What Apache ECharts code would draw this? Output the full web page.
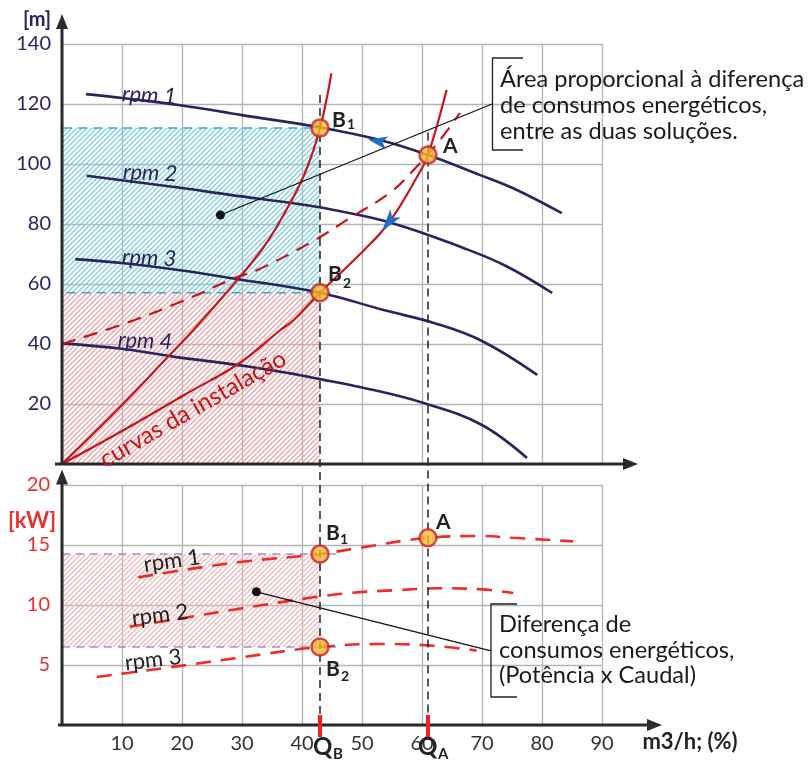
<!DOCTYPE html>
<html><head><meta charset="utf-8">
<script src="https://cdn.jsdelivr.net/npm/echarts@6/dist/echarts.min.js"></script>
<style>html,body{margin:0;padding:0;background:#fff}#c{width:810px;height:762px}</style>
</head><body><div id="c"></div>
<script>
// ---------- data ----------
const xTicks = [10,20,30,40,50,60,70,80,90];
const headTicks = [20,40,60,80,100,120,140];
const powerTicks = [5,10,15,20];

// pump head curves [flow, head m]
const rpm1Head = [[4,123.3],[10,122],[20,119.5],[30,116.3],[43,112.2],[53,108],[61,103],[69.7,96.3],[75.2,91.9],[83.3,83.6]];
const rpm2Head = [[4.1,96.1],[20,92],[28,89.7],[39.7,86.6],[44.7,84.9],[55.2,80.2],[66.9,72],[74,66],[81.7,57]];
const rpm3Head = [[2.2,68.3],[10,67],[20,64.5],[28,62],[43,57.1],[53.6,51.3],[62,47],[70,41],[79.2,29.7]];
const rpm4Head = [[0,40.2],[10,38.4],[18.5,35.8],[30,32.8],[38,30.2],[43,28.3],[50,25.5],[60,20.5],[70,13],[77.5,2]];
// system curves
const systemB1 = [[0,0],[10,19.7],[17.7,35.8],[21.9,44.7],[28,58.5],[33.5,72],[37.2,84],[40.5,97],[43,112],[44.9,130.2]];
const systemA = [[0,0],[10,11],[20.8,23.5],[29.5,33.5],[36.3,44.5],[38.6,48],[43,57.1],[50.2,71],[54.5,80.5],[59.4,96.5],[61,103],[64.1,124.7]];
const systemStatic = [[0,40],[10,46.5],[19.7,54],[29.2,62.3],[32.4,64.5],[41.6,74],[48,82],[54.7,90.5],[58.6,98],[63,108],[66.3,117]];
// power curves [flow, kW]
const rpm1Power = [[12.7,12.3],[20,12.9],[30,13.6],[43,14.25],[50,14.8],[61,15.6],[69.7,15.75],[75,15.6],[85.2,15.3]];
const rpm2Power = [[11.3,8.2],[20,8.9],[28.5,9.6],[40,10.5],[48,11],[56.3,11.25],[63,11.4],[70,11.3],[75.2,11.0]];
const rpm3Power = [[5.8,4],[20.8,5],[30,5.65],[43,6.5],[53.5,6.75],[62,6.6],[69.1,6.2]];
// operating points
const pointNames = ['B1','A','B2'];
const headPoints = [[43,112],[61,103],[43,57.1]];
const powerPoints = [[43,14.25],[61,15.6],[43,6.5]];
const qB = 43, qA = 61;
const headB1 = 112, headB2 = 57.1, powerB1 = 14.25, powerB2 = 6.5;
// annotation anchors (data coords)
const headLeader = [[26.4,83],[71.67,120]];
const powerLeader = [[32.4,11.1],[71.5,6.17]];
// flow direction arrows: [tip, tail]
const flowArrowRpm1 = [[51,108.2],[54.2,107]];
const flowArrowSystem = [[53.3,77.6],[55.6,83.6]];

// ---------- style ----------
const NAVY='#28245e', RED='#c4161c', PRED='#ef2b2b', DARK='#222';
const FONT='Lato, "Open Sans", sans-serif';

function hatch(color){
  const s=5, c=document.createElement('canvas'); c.width=s; c.height=s;
  const g=c.getContext('2d'); g.strokeStyle=color; g.lineWidth=1.4;
  g.beginPath();
  g.moveTo(0,s); g.lineTo(s,0);
  g.moveTo(-1,1); g.lineTo(1,-1);
  g.moveTo(s-1,s+1); g.lineTo(s+1,s-1);
  g.stroke();
  return {image:c, repeat:'repeat'};
}

function curve(data, grid, color, width, type, z){
  return {type:'line', xAxisIndex:grid, yAxisIndex:grid, data, symbol:'none', showSymbol:false,
    smooth:0.4, silent:true, z:z||3,
    lineStyle:{color, width, type:type||'solid', cap:'butt'}};
}

const chart = echarts.init(document.getElementById('c'), null, {renderer:'canvas'});

const splitLine = {show:true, lineStyle:{color:'#b4b4b4', width:1.3}};
const option = {
  animation:false,
  backgroundColor:'#fff',
  grid:[{left:62, top:44, width:540, height:420},{left:62, top:485, width:540, height:240}],
  xAxis:[
    {gridIndex:0, type:'value', min:0, max:90, interval:10, axisLine:{show:false}, axisTick:{show:false}, axisLabel:{show:false}, splitLine},
    {gridIndex:1, type:'value', min:0, max:90, interval:10, axisLine:{show:false}, axisTick:{show:false},
      axisLabel:{show:true, margin:9, color:'#333', fontFamily:FONT, fontSize:20, hideOverlap:false,
        formatter:v=>xTicks.includes(v)?String(v):''}, splitLine}
  ],
  yAxis:[
    {gridIndex:0, type:'value', min:0, max:140, interval:20, axisLine:{show:false}, axisTick:{show:false},
      axisLabel:{margin:11, color:NAVY, fontFamily:FONT, fontSize:20, formatter:v=>headTicks.includes(v)?String(v):''}, splitLine},
    {gridIndex:1, type:'value', min:0, max:20, interval:5, axisLine:{show:false}, axisTick:{show:false},
      axisLabel:{margin:12, color:'#e8302c', fontFamily:FONT, fontSize:20, formatter:v=>powerTicks.includes(v)?String(v):''}, splitLine}
  ],
  series:[
    {type:'line', xAxisIndex:0, yAxisIndex:0, data:[[-2.3,headB1],[45.5,headB1]], clip:false, symbol:'none', silent:true, z:2,
      lineStyle:{color:'#3aa6dc', width:1.6, type:[9,6]},
      markArea:{silent:true, itemStyle:{color:hatch('#84cfdf')}, data:[[{coord:[0,headB2]},{coord:[qB,headB1]}]]}},
    {type:'line', xAxisIndex:0, yAxisIndex:0, data:[[-1.7,headB2],[46,headB2]], clip:false, symbol:'none', silent:true, z:2,
      lineStyle:{color:'#3aa6dc', width:1.6, type:[9,6]},
      markArea:{silent:true, itemStyle:{color:hatch('#e9a7a7')}, data:[[{coord:[0,0]},{coord:[qB,headB2]}]]}},
    {type:'line', xAxisIndex:1, yAxisIndex:1, data:[[0,powerB1],[46.3,powerB1]], clip:false, symbol:'none', silent:true, z:2,
      lineStyle:{color:'#7a5cc0', width:1.2, type:[8,6]},
      markArea:{silent:true, itemStyle:{color:hatch('#f0bcbc')}, data:[[{coord:[0,powerB2]},{coord:[qB,powerB1]}]]}},
    {type:'line', xAxisIndex:1, yAxisIndex:1, data:[[0,powerB2],[46.3,powerB2]], clip:false, symbol:'none', silent:true, z:2,
      lineStyle:{color:'#7a5cc0', width:1.2, type:[8,6]}},
    curve(rpm1Head,0,NAVY,2.6), curve(rpm2Head,0,NAVY,2.6), curve(rpm3Head,0,NAVY,2.6), curve(rpm4Head,0,NAVY,2.6),
    curve(systemB1,0,RED,2.2), curve(systemA,0,RED,2.2), curve(systemStatic,0,RED,2.2,[14,9]),
    curve(rpm1Power,1,PRED,2.6,[15,10]), curve(rpm2Power,1,PRED,2.6,[15,10]), curve(rpm3Power,1,PRED,2.6,[15,10]),
    {type:'line', xAxisIndex:0, yAxisIndex:0, silent:true, z:12, showSymbol:true,
      data:headLeader.map((p,i)=>({value:p, symbol:i===0?'circle':'none', symbolSize:9})),
      lineStyle:{color:'#111', width:1.3}, itemStyle:{color:'#111'}},
    {type:'line', xAxisIndex:1, yAxisIndex:1, silent:true, z:12, showSymbol:true,
      data:powerLeader.map((p,i)=>({value:p, symbol:i===0?'circle':'none', symbolSize:9})),
      lineStyle:{color:'#111', width:1.3}, itemStyle:{color:'#111'}},
    {type:'scatter', xAxisIndex:0, yAxisIndex:0, silent:true, z:20, data:headPoints, symbolSize:17,
      itemStyle:{color:'#fbb731', borderColor:'#c8202a', borderWidth:2.5}},
    {type:'scatter', xAxisIndex:1, yAxisIndex:1, silent:true, z:20, data:powerPoints, symbolSize:17,
      itemStyle:{color:'#fbb731', borderColor:'#c8202a', borderWidth:2.5}}
  ]
};
chart.setOption(option);

// ---------- decorations computed from the axes ----------
const p0 = v => chart.convertToPixel({gridIndex:0}, v);
const p1 = v => chart.convertToPixel({gridIndex:1}, v);
const G = [];
function seg(a,b,color,w,dash,z){ G.push({type:'line', z:z||10, silent:true, shape:{x1:a[0],y1:a[1],x2:b[0],y2:b[1]}, style:{stroke:color, lineWidth:w, lineDash:dash||null}}); }
function tri(pts,color,z){ G.push({type:'polygon', z:z||16, silent:true, shape:{points:pts}, style:{fill:color}}); }
function txt(x,y,text,font,fill,align,rot){ G.push({type:'text', z:30, silent:true, x, y, rotation:rot||0,
  style:{text, font, fill, align:align||'left', textAlign:align||'left', verticalAlign:'middle', textVerticalAlign:'middle'}}); }
function arrowHead(pair, half, color){
  const t=p0(pair[0]), b=p0(pair[1]);
  const dx=b[0]-t[0], dy=b[1]-t[1], L=Math.hypot(dx,dy), nx=-dy/L, ny=dx/L;
  const notch=[t[0]+dx*0.75, t[1]+dy*0.75];
  tri([t,[b[0]+nx*half,b[1]+ny*half],notch,[b[0]-nx*half,b[1]-ny*half]],color,18);
}

const o0 = p0([0,0]), o1 = p1([0,0]);
const AX='#2b2b2b';
const yTop = p0([0,150]);
seg([o0[0],o0[1]],[o0[0],yTop[1]+12],AX,3,null,15);
tri([[o0[0],yTop[1]],[o0[0]-6,yTop[1]+15],[o0[0]+6,yTop[1]+15]],AX);
const xTop = p0([96,0]);
seg([o0[0]-7,o0[1]],[xTop[0]-12,o0[1]],AX,3,null,15);
tri([[xTop[0],o0[1]],[xTop[0]-15,o0[1]-6],[xTop[0]-15,o0[1]+6]],AX);
const yBot = p1([0,21.3]);
seg([o1[0],o1[1]+1],[o1[0],yBot[1]+12],AX,3,null,15);
tri([[o1[0],yBot[1]],[o1[0]-6,yBot[1]+15],[o1[0]+6,yBot[1]+15]],AX);
const xBot = p1([100,0]);
seg([o1[0]-4,o1[1]],[xBot[0]-12,o1[1]],AX,3,null,15);
tri([[xBot[0],o1[1]],[xBot[0]-15,o1[1]-6],[xBot[0]-15,o1[1]+6]],AX);

arrowHead(flowArrowRpm1, 6.5, '#1f6fc1');
arrowHead(flowArrowSystem, 6.5, '#1f6fc1');

const qbTop = p0([qB,123]), qaTop = p0([qA,110.5]);
const qbBot = p1([qB,0]), qaBot = p1([qA,0]);
seg(qbTop,qbBot,'#222',1.5,[8,5],9);
seg(qaTop,qaBot,'#222',1.5,[8,5],9);
seg([qbBot[0],qbBot[1]-10],[qbBot[0],qbBot[1]+12],'#ee2222',4,null,17);
seg([qaBot[0],qaBot[1]-10],[qaBot[0],qaBot[1]+12],'#ee2222',4,null,17);

txt(qbBot[0]-7,qbBot[1]+22,'Q','bold 24px '+FONT,DARK);
txt(qbBot[0]+13,qbBot[1]+29,'B','bold 15px '+FONT,DARK);
txt(qaBot[0]-10,qaBot[1]+22,'Q','bold 24px '+FONT,DARK);
txt(qaBot[0]+10,qaBot[1]+29,'A','bold 15px '+FONT,DARK);

const BF='bold 21px '+FONT, SF='bold 14px '+FONT;
let q = p0(headPoints[0]); txt(q[0]+12,q[1]-8,'B',BF,DARK); txt(q[0]+27,q[1]-4,'1',SF,DARK);
q = p0(headPoints[1]); txt(q[0]+15,q[1]-9,'A',BF,DARK);
q = p0(headPoints[2]); txt(q[0]+8,q[1]-18,'B',BF,DARK); txt(q[0]+23,q[1]-9,'2',SF,DARK);
q = p1(powerPoints[0]); txt(q[0]+6,q[1]-21,'B',BF,DARK); txt(q[0]+20,q[1]-15,'1',SF,DARK);
q = p1(powerPoints[1]); txt(q[0]+8,q[1]-16,'A',BF,DARK);
q = p1(powerPoints[2]); txt(q[0]+6,q[1]+22,'B',BF,DARK); txt(q[0]+21,q[1]+29,'2',SF,DARK);

txt(37,20,'[m]','bold 20px '+FONT,NAVY,'center');
txt(32,521,'[kW]','bold 22px '+FONT,'#e8302c','center');
txt(690,742,'m3/h; (%)','bold 22px '+FONT,DARK,'center');

const IF='italic 22px '+FONT;
txt(122,94,'rpm 1',IF,NAVY,'left',-0.05);
txt(123,172,'rpm 2',IF,NAVY,'left',-0.04);
txt(122,257,'rpm 3',IF,NAVY,'left',-0.04);
txt(118,340,'rpm 4',IF,NAVY,'left',-0.04);
const RF='22px '+FONT;
txt(172,561,'rpm 1',RF,DARK,'center',0.14);
txt(160,615,'rpm 2',RF,DARK,'center',0.12);
txt(153,660,'rpm 3',RF,DARK,'center',0.12);
txt(193,409,'curvas da instalação','24px '+FONT,RED,'center',0.52);

G.push({type:'polyline', z:12, silent:true, shape:{points:[[523,58],[492.5,58],[492.5,150],[523,150]]}, style:{stroke:'#222', lineWidth:1.3, fill:null}});
G.push({type:'polyline', z:12, silent:true, shape:{points:[[517,604],[491,604],[491,697],[517,697]]}, style:{stroke:'#222', lineWidth:1.3, fill:null}});
const AF='23.6px '+FONT;
txt(500,79,'Área proporcional à diferença',AF,'#1a1a1a');
txt(500,105,'de consumos energéticos,',AF,'#1a1a1a');
txt(500,131,'entre as duas soluções.',AF,'#1a1a1a');
txt(499,624,'Diferença de',AF,'#1a1a1a');
txt(499,650,'consumos energéticos,',AF,'#1a1a1a');
txt(499,675,'(Potência x Caudal)',AF,'#1a1a1a');

chart.setOption({graphic:{elements:G}});
</script>
</body></html>
